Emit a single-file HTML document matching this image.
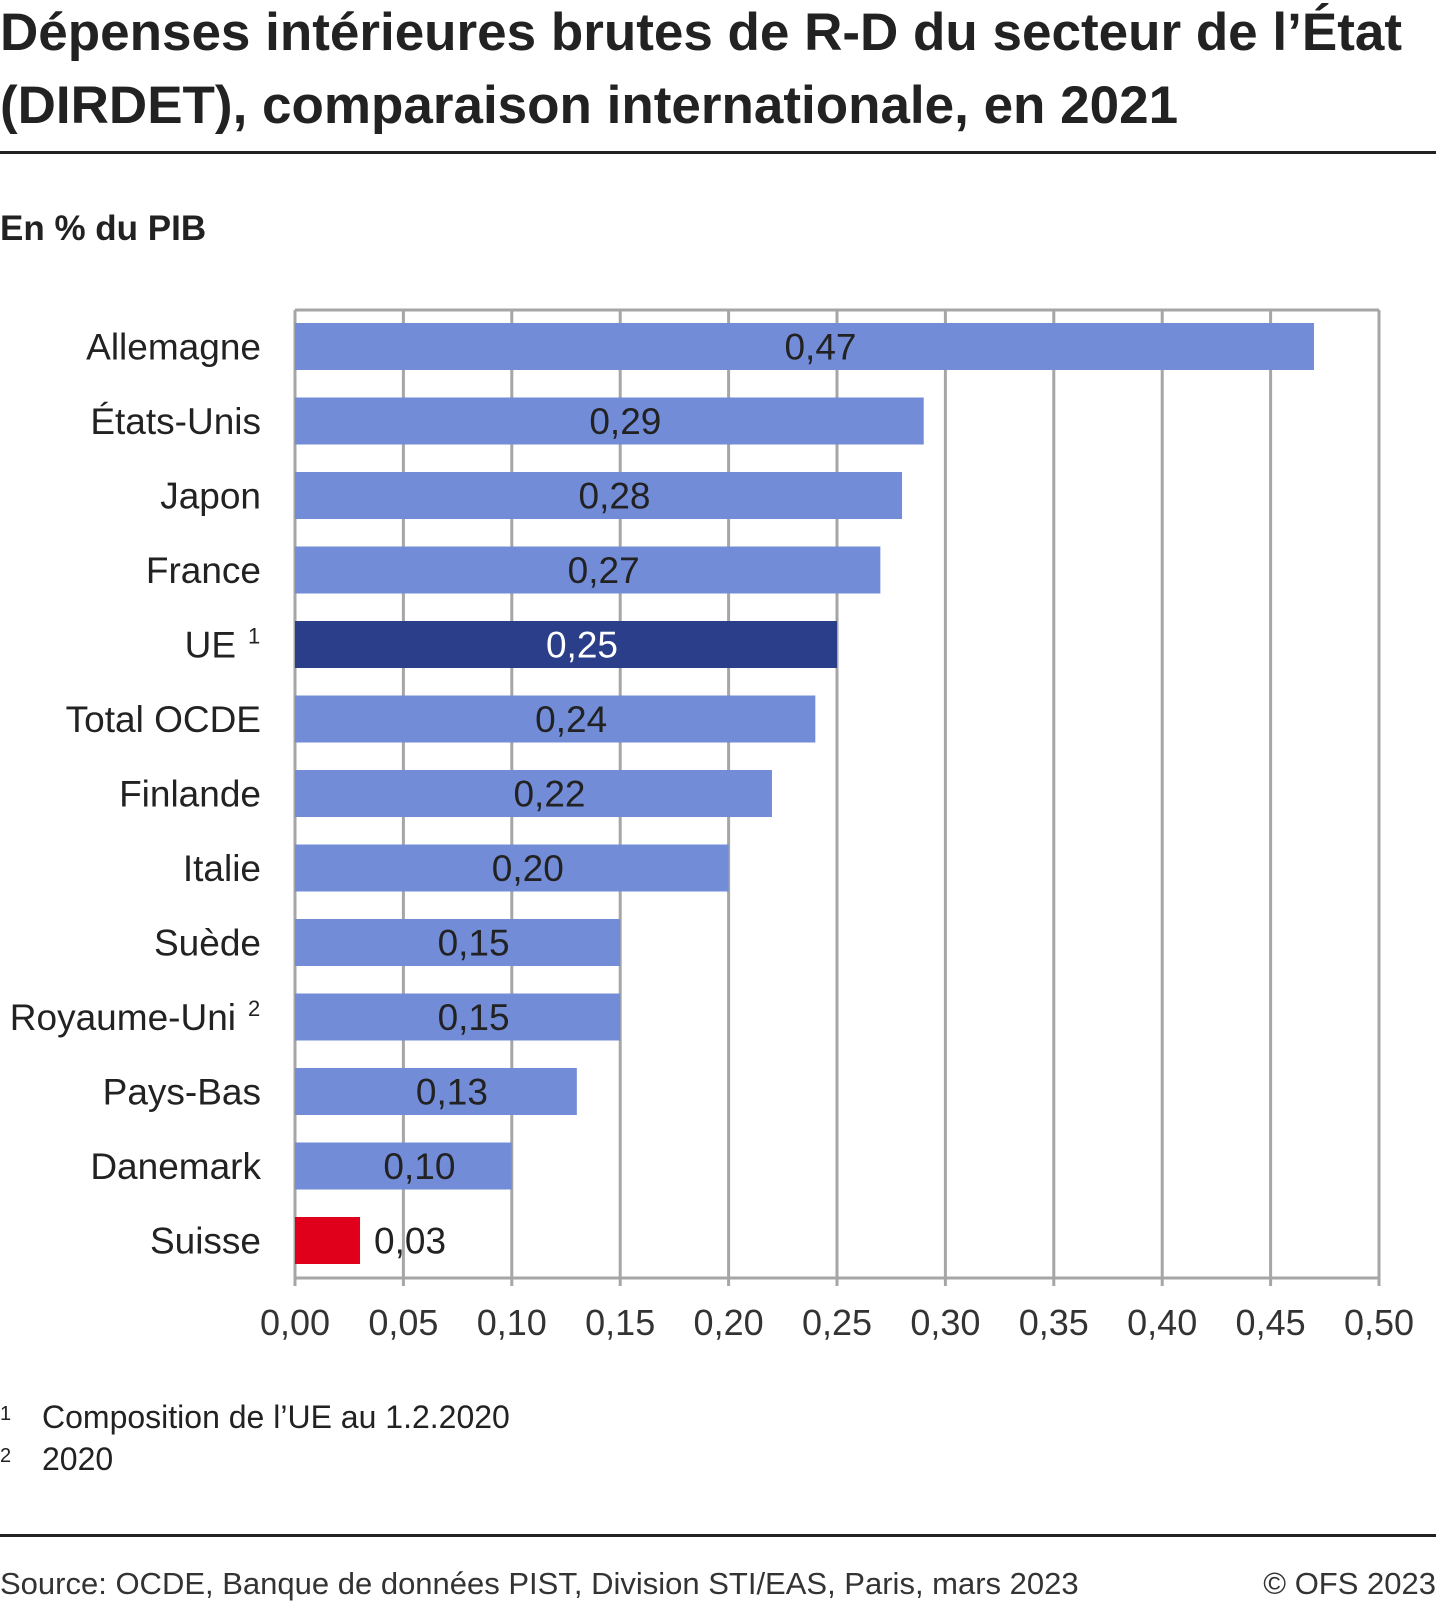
<!DOCTYPE html>
<html><head><meta charset="utf-8">
<style>
html,body{margin:0;padding:0;background:#fff;}
svg{display:block;font-family:"Liberation Sans",sans-serif;}
</style></head>
<body>
<svg id="chart" width="1436" height="1604" viewBox="0 0 1436 1604">
<text x="0" y="50" font-size="53" font-weight="bold" fill="#222">Dépenses intérieures brutes de R-D du secteur de l’État</text>
<text x="0" y="123" font-size="53" font-weight="bold" fill="#222">(DIRDET), comparaison internationale, en 2021</text>
<rect x="0" y="151" width="1436" height="3" fill="#222"/>
<text x="0" y="240" font-size="35" font-weight="bold" fill="#222">En % du PIB</text>
<g id="plot"></g>
<text x="0" y="1420" font-size="20" fill="#222">1</text>
<text x="42" y="1428" font-size="32" fill="#222">Composition de l’UE au 1.2.2020</text>
<text x="0" y="1462" font-size="20" fill="#222">2</text>
<text x="42" y="1470" font-size="32" fill="#222">2020</text>
<rect x="0" y="1534" width="1436" height="3" fill="#222"/>
<text x="0" y="1594" font-size="31" fill="#333">Source: OCDE, Banque de données PIST, Division STI/EAS, Paris, mars 2023</text>
<text x="1436" y="1594" font-size="31" fill="#333" text-anchor="end">© OFS 2023</text>
</svg>
<script>
const categories=["Allemagne","États-Unis","Japon","France","UE","Total OCDE","Finlande","Italie","Suède","Royaume-Uni","Pays-Bas","Danemark","Suisse"];
const superscripts=["","","","","1","","","","","2","","",""];
const values=[0.47,0.29,0.28,0.27,0.25,0.24,0.22,0.20,0.15,0.15,0.13,0.10,0.03];
const valueLabels=["0,47","0,29","0,28","0,27","0,25","0,24","0,22","0,20","0,15","0,15","0,13","0,10","0,03"];
const ticks=[0,0.05,0.10,0.15,0.20,0.25,0.30,0.35,0.40,0.45,0.50];
const tickLabels=["0,00","0,05","0,10","0,15","0,20","0,25","0,30","0,35","0,40","0,45","0,50"];
const NS="http://www.w3.org/2000/svg";
const plotG=document.getElementById('plot');
const X0=295,X1=1379,Y0=310,Y1=1278,step=74.5,barH=47,firstTop=323;
const xs=v=>X0+(v-ticks[0])/(ticks[ticks.length-1]-ticks[0])*(X1-X0);
const ys=i=>firstTop+i*step;
function mk(t,a){const e=document.createElementNS(NS,t);for(const k in a)e.setAttribute(k,a[k]);plotG.appendChild(e);return e;}
const plotTop=mk('line',{x1:X0,y1:Y0,x2:X1,y2:Y0,stroke:'#a6a6a6','stroke-width':3});


ticks.forEach((t,i)=>{
 const l=mk('line',{x1:xs(t),y1:Y0,x2:xs(t),y2:Y1+8,stroke:'#a6a6a6','stroke-width':3});
 
 
 const tl=mk('text',{x:xs(t),y:1335,'font-size':36,fill:'#333','text-anchor':'middle'});
 tl.textContent=tickLabels[i];
 
 
});
const ax=mk('line',{x1:X0,y1:Y1,x2:X1,y2:Y1,stroke:'#a6a6a6','stroke-width':3});


categories.forEach((c,i)=>{
 const col=c==="UE"?'#2a3e8a':(c==="Suisse"?'#e0001b':'#728cd8');
 const r=mk('rect',{x:X0,y:ys(i),width:xs(values[i])-X0,height:barH,fill:col});
 
 
 const cy=ys(i)+barH/2+13;
 const lab=mk('text',{x:superscripts[i]?236:261,y:cy,'font-size':37,fill:'#222','text-anchor':'end'});
 lab.textContent=c;
 
 
 if(superscripts[i]){
  const s=mk('text',{x:248,y:cy-14,'font-size':22,fill:'#222'});
  s.textContent=superscripts[i];
  
  
 }
 const inside=values[i]>=0.08;
 const vl=mk('text',{x:inside?(X0+xs(values[i]))/2+16:xs(values[i])+14,y:cy,'font-size':37,fill:c==="UE"?'#fff':'#222','text-anchor':inside?'middle':'start'});
 vl.textContent=valueLabels[i];
 
 
});
</script>
</body></html>
